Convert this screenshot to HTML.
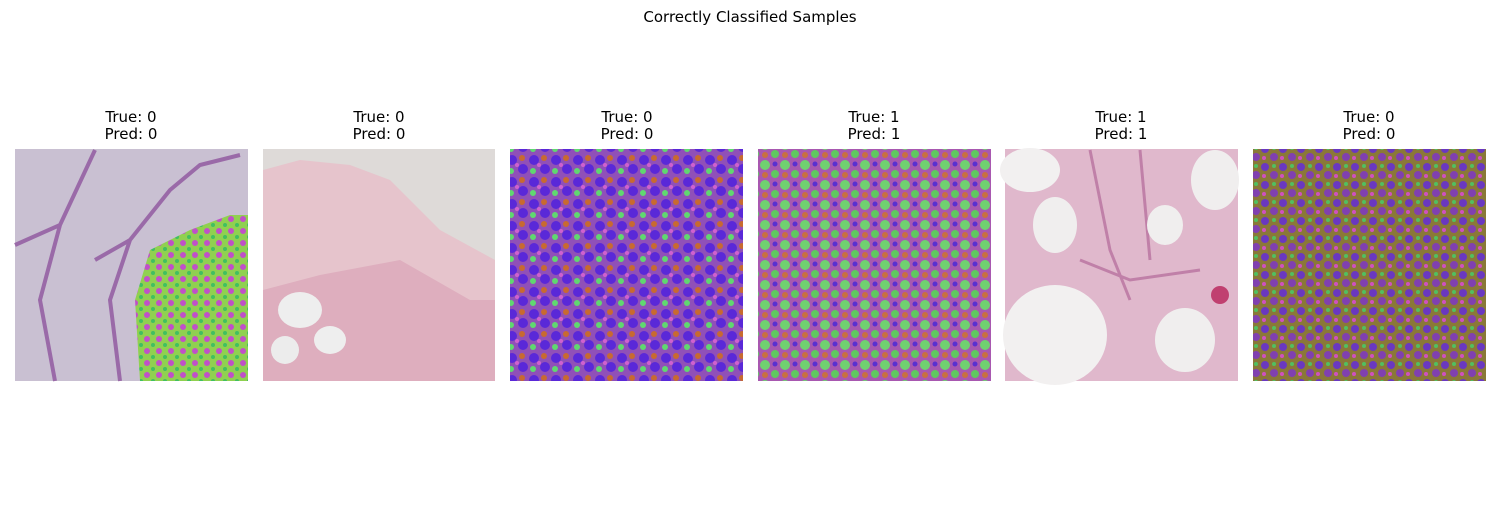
<!DOCTYPE html>
<html><head><meta charset="utf-8"><style>
body{margin:0;background:#fff;width:1500px;height:500px;overflow:hidden;font-family:"Liberation Sans","DejaVu Sans",sans-serif}
svg text{font-family:"DejaVu Sans","Liberation Sans",sans-serif;fill:#000}
</style></head><body>
<svg width="1500" height="500" viewBox="0 0 1500 500">
<defs>
<pattern id="p3" width="22" height="22" patternUnits="userSpaceOnUse">
<rect width="22" height="22" fill="#9050b8"/>
<circle cx="6" cy="6" r="5" fill="#5a28d8"/><circle cx="17" cy="15" r="5" fill="#5a28d8"/>
<circle cx="16" cy="4" r="3" fill="#c86a30"/><circle cx="5" cy="17" r="3" fill="#60d870"/>
<circle cx="11" cy="11" r="2" fill="#d060d0"/>
</pattern>
<pattern id="p4" width="20" height="20" patternUnits="userSpaceOnUse">
<rect width="20" height="20" fill="#a858b0"/>
<circle cx="5" cy="5" r="5" fill="#70d070"/><circle cx="15" cy="14" r="4" fill="#60c860"/>
<circle cx="15" cy="4" r="2.5" fill="#5a30d0"/><circle cx="5" cy="15" r="3" fill="#c87040"/>
</pattern>
<pattern id="p6" width="18" height="18" patternUnits="userSpaceOnUse">
<rect width="18" height="18" fill="#8a7838"/>
<circle cx="5" cy="5" r="4" fill="#6a38c0"/><circle cx="14" cy="13" r="4" fill="#8040b0"/>
<circle cx="14" cy="4" r="2" fill="#50c060"/><circle cx="4" cy="14" r="2" fill="#d050c0"/>
</pattern>
<pattern id="p1" width="12" height="12" patternUnits="userSpaceOnUse">
<rect width="12" height="12" fill="#90d050"/>
<circle cx="3" cy="3" r="3" fill="#c050c8"/><circle cx="9" cy="9" r="2" fill="#40c060"/>
</pattern>
</defs>
<text x="750" y="22" text-anchor="middle" font-size="15">Correctly Classified Samples</text>

<g>
<text x="131" y="122" text-anchor="middle" font-size="15">True: 0</text>
<text x="131" y="139" text-anchor="middle" font-size="15">Pred: 0</text>
<rect x="15" y="149" width="233" height="232" fill="#c9c0d2"/>
<path d="M15,245 L60,225 L95,150 M60,225 L40,300 L55,381 M95,260 L130,240 L170,190 L200,165 L240,155 M130,240 L110,300 L120,381" stroke="#9a6aa8" stroke-width="4" fill="none"/>
<path d="M140,381 L135,300 L150,250 L190,230 L230,215 L248,215 L248,381 Z" fill="url(#p1)"/>
</g>

<g>
<text x="379" y="122" text-anchor="middle" font-size="15">True: 0</text>
<text x="379" y="139" text-anchor="middle" font-size="15">Pred: 0</text>
<rect x="263" y="149" width="232" height="232" fill="#dedad8"/>
<path d="M263,170 L300,160 L350,165 L390,180 L440,230 L495,260 L495,381 L263,381Z" fill="#e6c4cc"/>
<path d="M263,290 L320,275 L400,260 L470,300 L495,300 L495,381 L263,381Z" fill="#deaebe"/>
<ellipse cx="300" cy="310" rx="22" ry="18" fill="#eeeeee"/>
<ellipse cx="330" cy="340" rx="16" ry="14" fill="#eeeeee"/>
<ellipse cx="285" cy="350" rx="14" ry="14" fill="#ececec"/>
</g>

<g>
<text x="627" y="122" text-anchor="middle" font-size="15">True: 0</text>
<text x="627" y="139" text-anchor="middle" font-size="15">Pred: 0</text>
<rect x="510" y="149" width="233" height="232" fill="url(#p3)"/>
</g>

<g>
<text x="874" y="122" text-anchor="middle" font-size="15">True: 1</text>
<text x="874" y="139" text-anchor="middle" font-size="15">Pred: 1</text>
<rect x="758" y="149" width="233" height="232" fill="url(#p4)"/>
</g>

<g>
<text x="1121" y="122" text-anchor="middle" font-size="15">True: 1</text>
<text x="1121" y="139" text-anchor="middle" font-size="15">Pred: 1</text>
<rect x="1005" y="149" width="233" height="232" fill="#e0b8cc"/>
<path d="M1090,150 L1110,250 L1130,300 M1140,150 L1150,260 M1080,260 L1130,280 L1200,270" stroke="#c080a8" stroke-width="3" fill="none"/>
<ellipse cx="1030" cy="170" rx="30" ry="22" fill="#f2f0f0"/>
<ellipse cx="1055" cy="225" rx="22" ry="28" fill="#f0eeee"/>
<ellipse cx="1165" cy="225" rx="18" ry="20" fill="#f0eeee"/>
<ellipse cx="1055" cy="335" rx="52" ry="50" fill="#f2f0f0"/>
<ellipse cx="1185" cy="340" rx="30" ry="32" fill="#f0eeee"/>
<ellipse cx="1215" cy="180" rx="24" ry="30" fill="#f0eeee"/>
<circle cx="1220" cy="295" r="9" fill="#c04070"/>
</g>

<g>
<text x="1369" y="122" text-anchor="middle" font-size="15">True: 0</text>
<text x="1369" y="139" text-anchor="middle" font-size="15">Pred: 0</text>
<rect x="1253" y="149" width="233" height="232" fill="url(#p6)"/>
</g>
</svg>
</body></html>
